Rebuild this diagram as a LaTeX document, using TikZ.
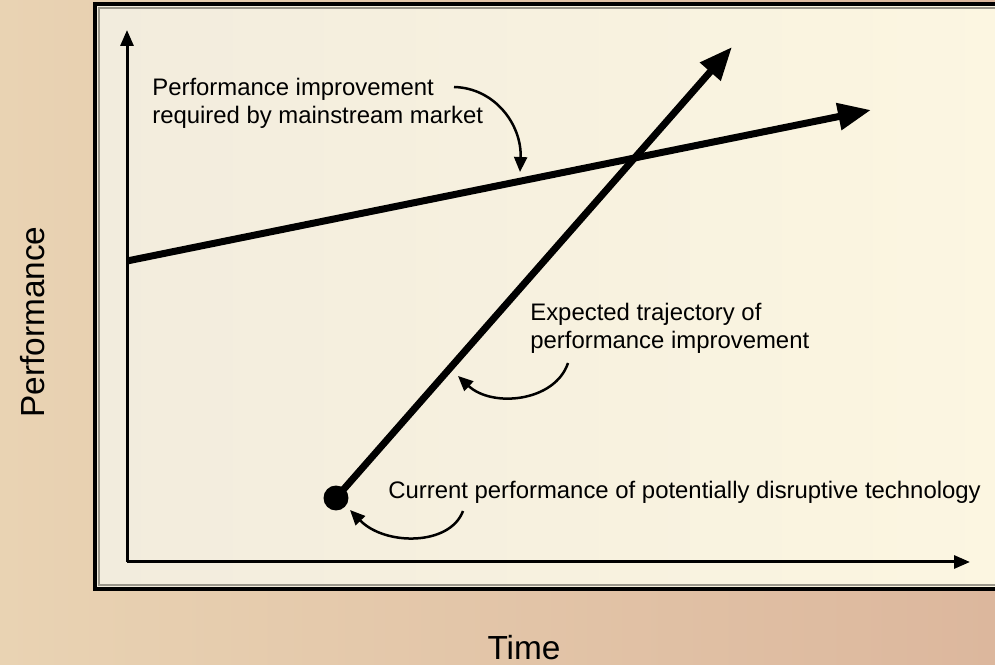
\documentclass[tikz,border=0pt]{standalone}
\usepackage{fontspec}
\setmainfont{Liberation Sans}
\usetikzlibrary{arrows.meta}
\definecolor{bgleft}{HTML}{E9D3B3}
\definecolor{bgright}{HTML}{DCB79D}
\definecolor{panelleft}{HTML}{F2ECDD}
\definecolor{panelright}{HTML}{FCF6E1}
\definecolor{rimgrey}{HTML}{9A968A}

\begin{document}
\begin{tikzpicture}[x=0.02cm,y=-0.02cm,
    mainline/.style={line width=0.14cm,-{Triangle[length=0.66cm,width=0.52cm]}},
    axisline/.style={line width=0.06cm,-{Triangle[length=0.32cm,width=0.26cm]}},
    callout/.style={line width=0.05cm,-{Triangle[length=0.3cm,width=0.26cm]}},
    lbl/.style={inner sep=0pt,align=left,font=\fontsize{13.6}{16}\selectfont},
    axislbl/.style={inner sep=0pt,font=\fontsize{19}{22}\selectfont}]
  \useasboundingbox (0,0) rectangle (995,665);
  \clip (0,0) rectangle (995,665);
  % background and panel
  \shade[left color=bgleft,right color=bgright] (0,0) rectangle (995,665);
  \shade[left color=panelleft,right color=panelright] (95,4) rectangle (1010,589);
  \draw[rimgrey,line width=0.05cm] (99,8) rectangle (1010,585);
  \draw[line width=0.07cm] (95,4) rectangle (1010,589);

  % axes
  \coordinate (origin) at (127,562);
  \coordinate (ytip) at (127,30);
  \coordinate (xtip) at (970,562);
  \draw[axisline] (origin) -- (ytip);
  \draw[axisline] (origin) -- (xtip);

  % the two trajectories
  \coordinate (mstart) at (127,261);
  \coordinate (mtip) at (871,110);
  \node[circle,fill,inner sep=0pt,minimum size=0.5cm] (dot) at (336,498) {};
  \coordinate (ttip) at (732,47);
  \draw[mainline] (mstart) -- (mtip);
  \draw[mainline] (dot.center) -- (ttip);

  % labels
  \node[lbl,anchor=north west] (mainlbl) at (152,78)
    {Performance improvement\\required by mainstream market};
  \node[lbl,anchor=north west] (trajlbl) at (530,303)
    {Expected trajectory of\\performance improvement};
  \node[lbl,anchor=base west] (curlbl) at (388,499)
    {Current performance of potentially disruptive technology};
  \node[axislbl,rotate=90] (perf) at (33,322) {Performance};
  \node[axislbl] (time) at (524,648) {Time};

  % callouts
  \coordinate (c1a) at (454,87);
  \coordinate (c1b) at (520,172);
  \coordinate (c2a) at (568,363);
  \coordinate (c2b) at (458,376);
  \coordinate (c3a) at (463,511);
  \coordinate (c3b) at (350,510);
  \draw[callout] (c1a) .. controls (495,88) and (522,125) .. (c1b);
  \draw[callout] (c2a) .. controls (555,402) and (492,408) .. (c2b);
  \draw[callout] (c3a) .. controls (450,546) and (385,546) .. (c3b);
\end{tikzpicture}
\end{document}
